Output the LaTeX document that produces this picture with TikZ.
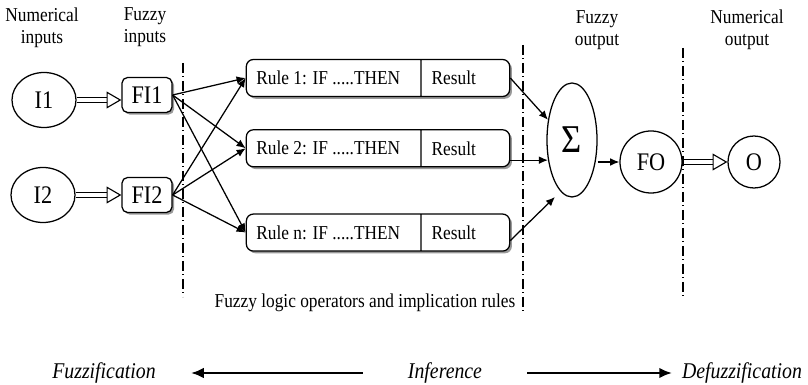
\documentclass[tikz,border=0pt]{standalone}
\usepackage{fontspec}
\setmainfont[FakeStretch=0.88]{Liberation Serif}
\usetikzlibrary{shapes.geometric,shapes.multipart,arrows.meta,positioning,calc,shadows}
\newcommand{\rulefont}{\fontsize{14}{15.5}\selectfont}
\newcommand{\nodefont}{\fontsize{18}{20}\selectfont}
\newcommand{\stagefont}{\fontsize{16}{18}\selectfont\itshape}
\tikzset{
    inp/.style={ellipse, draw, line width=0.9pt, minimum width=1.6cm, minimum height=1.375cm, inner sep=0, font=\nodefont},
    fbox/.style={rectangle, draw, line width=0.9pt, rounded corners=4pt, minimum width=1.25cm, minimum height=0.875cm, inner sep=0, fill=white, font=\nodefont, drop shadow={shadow xshift=1.5pt, shadow yshift=-1.5pt, fill=gray!80, opacity=1}},
    rulebox/.style={rectangle split, rectangle split horizontal, rectangle split parts=2, draw, line width=0.9pt, rounded corners=5pt, minimum height=0.925cm, inner xsep=0.25cm, inner ysep=0, fill=white, font=\rulefont, drop shadow={shadow xshift=1.6pt, shadow yshift=-1.6pt, fill=gray!80, opacity=1}},
    sumnode/.style={ellipse, draw, line width=0.9pt, minimum width=1.25cm, minimum height=2.85cm, inner sep=0, font=\fontsize{28}{28}\selectfont},
    outc/.style={circle, draw, line width=0.9pt, inner sep=0, font=\nodefont},
    lbl/.style={align=center, font=\rulefont, inner sep=0},
    stage/.style={font=\stagefont, inner sep=0},
    msg/.style={-{Latex[length=6.5pt, width=5.5pt]}, line width=0.9pt},
    dbl/.style={double, double distance=3.4pt, line width=0.7pt, -{Triangle[open, length=10.5pt, width=12pt, line width=0.8pt]}},
    bigflow/.style={-{Latex[length=9pt, width=7.5pt]}, line width=1.5pt},
    divider/.style={line width=0.9pt, dash pattern=on 7pt off 2.5pt on 0.8pt off 2.5pt},
}

\begin{document}
\begin{tikzpicture}[x=0.025cm, y=-0.025cm]
    \useasboundingbox (0,0) rectangle (808,385);

    % column titles
    \node[lbl] (tni) at (42,28) {Numerical\\inputs};
    \node[lbl] (tfi) at (145,27) {Fuzzy\\inputs};
    \node[lbl] (tfo) at (597,30) {Fuzzy\\output};
    \node[lbl] (tno) at (747,30) {Numerical\\output};

    % inputs
    \node[inp] (i1) at (44,100) {I1};
    \node[inp] (i2) at (43,195) {I2};
    \node[fbox] (fi1) at (147,95) {FI1};
    \node[fbox] (fi2) at (147,195) {FI2};

    % rules
    \node[rulebox] (r1) at (378,78) {\makebox[3.85cm][l]{Rule 1: IF .....THEN}\nodepart{two}\makebox[1.7cm][l]{Result}};
    \node[rulebox, below=0.8cm of r1] (r2) {\makebox[3.85cm][l]{Rule 2: IF .....THEN}\nodepart{two}\makebox[1.7cm][l]{Result}};
    \node[rulebox, below=1.15cm of r2] (rn) {\makebox[3.85cm][l]{Rule n: IF .....THEN}\nodepart{two}\makebox[1.7cm][l]{Result}};

    % outputs
    \node[sumnode] (sum) at (572,140) {Σ};
    \node[outc, minimum size=1.55cm] (fo) at (651,162) {FO};
    \node[outc, minimum size=1.3cm] (o) at (754,162) {O};
    \coordinate (nend) at (555,197);

    \draw[dbl] (i1) -- (i1 -| fi1.west);
    \draw[dbl] (i2) -- (i2 -| fi2.west);
    \foreach \f in {fi1, fi2}
        \foreach \r in {r1, r2, rn}
            \draw[msg] (\f.east) -- (\r.west);
    \draw[msg] (r1.east) -- (sum.140);
    \draw[msg] (r2.east |- sum.220) -- (sum.220);
    \draw[msg] ($(rn.east)+(0,8)$) -- (nend);
    \draw[msg] (fo.west -| sum.east) -- (fo.west);
    \draw[dbl] (fo) -- (o);

    % stage borders
    \foreach \x/\ya/\yb in {183/63/297, 523/45/313, 683/48/297}
        \draw[divider] (\x,\ya) -- (\x,\yb);

    \node[lbl] (ops) at (365,303) {Fuzzy logic operators and implication rules};

    % stages
    \node[stage] (fuz) at (104,373) {Fuzzification};
    \node[stage] (inf) at (445,373) {Inference};
    \node[stage] (def) at (742,373) {Defuzzification};
    \draw[bigflow, shorten <=32pt, shorten >=25pt] (inf) -- (fuz);
    \draw[bigflow, shorten <=32pt, shorten >=7pt] (inf) -- (def);
\end{tikzpicture}
\end{document}
